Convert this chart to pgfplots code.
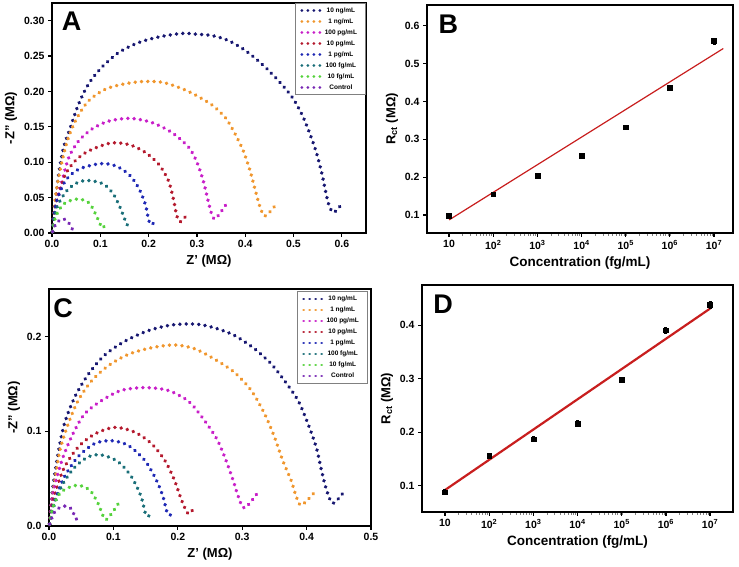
\documentclass[border=0pt]{standalone}
\usepackage{pgfplots}
\pgfplotsset{compat=1.18}
\usepackage{fontspec}
\setmainfont{Liberation Sans}

\definecolor{cNavy}{RGB}{22,22,112}
\definecolor{cOrange}{RGB}{240,150,45}
\definecolor{cMag}{RGB}{200,30,200}
\definecolor{cRed}{RGB}{180,25,45}
\definecolor{cBlue}{RGB}{30,40,180}
\definecolor{cTeal}{RGB}{25,110,120}
\definecolor{cGreen}{RGB}{85,210,60}
\definecolor{cPurp}{RGB}{120,40,180}
\definecolor{fitred}{RGB}{200,30,30}

\tikzset{letter/.style={anchor=north west, inner sep=0pt, font=\fontsize{27}{27}\selectfont\bfseries},
  nyq/.style={line width=3.8pt, line cap=round, dash pattern=on 0.05pt off 6.25pt}}

\pgfplotsset{
  panel/.style={scale only axis, anchor=south west, tick align=outside, tick pos=left,
    axis line style={line width=2pt},
    major tick style={black, line width=1.2pt}, major tick length=4pt,
    tick label style={font=\fontsize{10.5}{12}\selectfont\bfseries},
    label style={font=\fontsize{13}{15}\selectfont\bfseries},
    clip=false},
  nyqlegend/.style={
    legend style={draw=gray, line width=1pt, font=\fontsize{6.5}{7.5}\selectfont\bfseries,
      row sep=0.8pt, inner xsep=5pt, inner ysep=2pt, nodes={inner xsep=3.5pt}},
    legend cell align=center,
    legend image code/.code={\draw[##1, line width=2.9pt, dash pattern=on 0.05pt off 5.95pt] (0pt,0pt) -- (18pt,0pt);}}
}

\begin{document}
\begin{tikzpicture}
\path[use as bounding box] (0,0) rectangle (739pt,567pt);

% ---------------- Panel A ----------------
\begin{axis}[panel, nyqlegend, at={(52pt,334pt)}, width=314pt, height=230pt,
  xmin=0, xmax=0.65, ymin=0, ymax=0.325,
  xtick={0,0.1,0.2,0.3,0.4,0.5,0.6}, ytick={0,0.05,0.1,0.15,0.2,0.25,0.3},
  xticklabel style={/pgf/number format/.cd, fixed, fixed zerofill, precision=1, assume math mode=true},
  yticklabel style={/pgf/number format/.cd, fixed, fixed zerofill, precision=2, assume math mode=true},
  xlabel={Z' (MΩ)}, ylabel={-Z'' (MΩ)},
  legend style={at={(1,1)}, anchor=north east}]
\addplot[nyq, smooth, tension=0.5, cNavy] coordinates {(0.001,0.002) (0.003,0.022) (0.007,0.045) (0.014,0.084) (0.024,0.121) (0.038,0.149) (0.055,0.182) (0.076,0.211) (0.103,0.234) (0.138,0.255) (0.179,0.269) (0.221,0.277) (0.269,0.282) (0.297,0.281) (0.331,0.279) (0.365,0.272) (0.400,0.258) (0.434,0.239) (0.469,0.215) (0.497,0.192) (0.517,0.168) (0.534,0.140) (0.548,0.112) (0.559,0.083) (0.566,0.060) (0.573,0.040) (0.583,0.029) (0.600,0.041)};
\addlegendentry{10 ng/mL}
\addplot[nyq, smooth, tension=0.5, cOrange] coordinates {(0.001,0.002) (0.004,0.030) (0.010,0.064) (0.021,0.102) (0.034,0.135) (0.052,0.163) (0.076,0.187) (0.110,0.203) (0.145,0.210) (0.186,0.214) (0.228,0.213) (0.269,0.204) (0.297,0.195) (0.331,0.181) (0.359,0.163) (0.379,0.140) (0.396,0.116) (0.410,0.088) (0.421,0.060) (0.431,0.036) (0.441,0.024) (0.460,0.037)};
\addlegendentry{1 ng/mL}
\addplot[nyq, smooth, tension=0.5, cMag] coordinates {(0.001,0.002) (0.008,0.040) (0.021,0.074) (0.035,0.107) (0.055,0.130) (0.083,0.147) (0.117,0.158) (0.162,0.162) (0.207,0.156) (0.248,0.142) (0.283,0.121) (0.300,0.100) (0.313,0.074) (0.323,0.046) (0.330,0.028) (0.338,0.020) (0.359,0.039)};
\addlegendentry{100 pg/mL}
\addplot[nyq, smooth, tension=0.5, cRed] coordinates {(0.001,0.002) (0.005,0.030) (0.014,0.055) (0.028,0.083) (0.048,0.102) (0.076,0.116) (0.121,0.127) (0.159,0.125) (0.193,0.114) (0.221,0.097) (0.241,0.074) (0.252,0.046) (0.258,0.025) (0.266,0.016) (0.283,0.029)};
\addlegendentry{10 pg/mL}
\addplot[nyq, smooth, tension=0.5, cBlue] coordinates {(0.001,0.002) (0.004,0.025) (0.010,0.046) (0.028,0.074) (0.055,0.090) (0.100,0.098) (0.131,0.095) (0.159,0.083) (0.179,0.064) (0.193,0.041) (0.199,0.022) (0.204,0.012) (0.214,0.016)};
\addlegendentry{1 pg/mL}
\addplot[nyq, smooth, tension=0.5, cTeal] coordinates {(0.001,0.002) (0.010,0.036) (0.031,0.060) (0.055,0.072) (0.079,0.074) (0.107,0.069) (0.127,0.055) (0.141,0.036) (0.152,0.017) (0.158,0.009)};
\addlegendentry{100 fg/mL}
\addplot[nyq, smooth, tension=0.5, cGreen] coordinates {(0.001,0.002) (0.007,0.022) (0.024,0.041) (0.052,0.048) (0.076,0.043) (0.090,0.027) (0.100,0.012) (0.105,0.007) (0.112,0.014)};
\addlegendentry{10 fg/mL}
\addplot[nyq, smooth, tension=0.5, cPurp] coordinates {(0.001,0.002) (0.010,0.015) (0.024,0.020) (0.034,0.015) (0.040,0.008) (0.045,0.002)};
\addlegendentry{Control}
\node[letter] at (rel axis cs:0.031,0.962) {A};
\end{axis}

% ---------------- Panel B ----------------
\begin{axis}[panel, at={(427pt,334pt)}, width=306pt, height=228pt,
  xmode=log, xmin=3.162, xmax=2.69e7, ymin=0.0525, ymax=0.655,
  xtick={10,100,1000,10000,100000,1000000,10000000},
  xticklabels={10,10\textsuperscript{2},10\textsuperscript{3},10\textsuperscript{4},10\textsuperscript{5},10\textsuperscript{6},10\textsuperscript{7}},
  minor xtick={},
  ytick={0.1,0.2,0.3,0.4,0.5,0.6},
  yticklabel style={/pgf/number format/.cd, fixed, fixed zerofill, precision=1, assume math mode=true},
  xlabel={Concentration (fg/mL)}, ylabel={R\textsubscript{ct} (MΩ)},
  xlabel style={font=\fontsize{13.5}{15}\selectfont\bfseries}]
\addplot[fitred, line width=1.2pt] coordinates {(10,0.087) (1.62e7,0.540)};
\addplot[only marks, mark=square*, mark size=2.4pt, black,
    error bars/.cd, y dir=both, y explicit,
    error bar style={line width=0.8pt, black},
    error mark options={rotate=90, mark size=1.5pt, line width=0.8pt, black}]
  coordinates {(10,0.098) +- (0,0.004) (100,0.155) +- (0,0.004) (1000,0.203) +- (0,0.006) (10000,0.256) +- (0,0.004) (100000,0.332) +- (0,0.005) (1000000,0.437) +- (0,0.005) (10000000,0.560) +- (0,0.008)};
\node[letter] at (rel axis cs:0.037,0.956) {B};
\end{axis}

% ---------------- Panel C ----------------
\begin{axis}[panel, nyqlegend, at={(49pt,41pt)}, width=322pt, height=237pt,
  xmin=0, xmax=0.5, ymin=0, ymax=0.25,
  xtick={0,0.1,0.2,0.3,0.4,0.5}, ytick={0,0.1,0.2},
  xticklabel style={/pgf/number format/.cd, fixed, fixed zerofill, precision=1, assume math mode=true},
  yticklabel style={/pgf/number format/.cd, fixed, fixed zerofill, precision=1, assume math mode=true},
  xlabel={Z' (MΩ)}, ylabel={-Z'' (MΩ)},
  legend style={at={(0.99,0.99)}, anchor=north east}]
\addplot[nyq, smooth, tension=0.5, cNavy] coordinates {(0.001,0.002) (0.003,0.020) (0.006,0.041) (0.014,0.076) (0.024,0.108) (0.040,0.136) (0.061,0.160) (0.086,0.180) (0.118,0.195) (0.154,0.206) (0.190,0.212) (0.228,0.213) (0.257,0.209) (0.288,0.201) (0.319,0.187) (0.345,0.171) (0.366,0.153) (0.387,0.132) (0.402,0.108) (0.415,0.083) (0.423,0.059) (0.431,0.038) (0.441,0.024) (0.459,0.037)};
\addlegendentry{10 ng/mL}
\addplot[nyq, smooth, tension=0.5, cOrange] coordinates {(0.001,0.002) (0.004,0.025) (0.009,0.048) (0.017,0.080) (0.030,0.108) (0.045,0.132) (0.066,0.153) (0.092,0.169) (0.123,0.181) (0.159,0.188) (0.195,0.191) (0.226,0.187) (0.257,0.176) (0.288,0.162) (0.314,0.143) (0.335,0.118) (0.350,0.094) (0.363,0.069) (0.376,0.048) (0.384,0.031) (0.392,0.022) (0.413,0.036)};
\addlegendentry{1 ng/mL}
\addplot[nyq, smooth, tension=0.5, cMag] coordinates {(0.001,0.002) (0.004,0.025) (0.011,0.048) (0.022,0.073) (0.037,0.097) (0.055,0.118) (0.081,0.132) (0.112,0.143) (0.149,0.146) (0.185,0.143) (0.216,0.132) (0.234,0.118) (0.249,0.104) (0.262,0.090) (0.275,0.069) (0.286,0.048) (0.294,0.031) (0.304,0.019) (0.327,0.038)};
\addlegendentry{100 pg/mL}
\addplot[nyq, smooth, tension=0.5, cRed] coordinates {(0.001,0.002) (0.004,0.020) (0.011,0.038) (0.024,0.062) (0.045,0.083) (0.071,0.097) (0.102,0.104) (0.133,0.099) (0.159,0.087) (0.180,0.069) (0.195,0.048) (0.206,0.027) (0.216,0.013) (0.224,0.018)};
\addlegendentry{10 pg/mL}
\addplot[nyq, smooth, tension=0.5, cBlue] coordinates {(0.001,0.002) (0.004,0.017) (0.011,0.031) (0.024,0.052) (0.045,0.073) (0.071,0.087) (0.097,0.090) (0.123,0.085) (0.149,0.069) (0.167,0.048) (0.177,0.031) (0.184,0.013) (0.190,0.012)};
\addlegendentry{1 pg/mL}
\addplot[nyq, smooth, tension=0.5, cTeal] coordinates {(0.001,0.002) (0.009,0.024) (0.022,0.045) (0.040,0.062) (0.061,0.073) (0.081,0.075) (0.107,0.068) (0.128,0.052) (0.143,0.031) (0.151,0.011) (0.160,0.013)};
\addlegendentry{100 fg/mL}
\addplot[nyq, smooth, tension=0.5, cGreen] coordinates {(0.001,0.002) (0.006,0.020) (0.019,0.036) (0.043,0.043) (0.063,0.038) (0.076,0.024) (0.087,0.007) (0.097,0.013) (0.108,0.024)};
\addlegendentry{10 fg/mL}
\addplot[nyq, smooth, tension=0.5, cPurp] coordinates {(0.001,0.002) (0.009,0.015) (0.022,0.021) (0.035,0.018) (0.041,0.008) (0.048,0.006)};
\addlegendentry{Control}
\node[letter] at (rel axis cs:0.013,0.961) {C};
\end{axis}

% ---------------- Panel D ----------------
\begin{axis}[panel, at={(422pt,55pt)}, width=311pt, height=227pt,
  xmode=log, xmin=3.02, xmax=3.3e7, ymin=0.051, ymax=0.475,
  xtick={10,100,1000,10000,100000,1000000,10000000},
  xticklabels={10,10\textsuperscript{2},10\textsuperscript{3},10\textsuperscript{4},10\textsuperscript{5},10\textsuperscript{6},10\textsuperscript{7}},
  minor xtick={},
  ytick={0.1,0.2,0.3,0.4},
  yticklabel style={/pgf/number format/.cd, fixed, fixed zerofill, precision=1, assume math mode=true},
  xlabel={Concentration (fg/mL)}, ylabel={R\textsubscript{ct} (MΩ)},
  xlabel style={font=\fontsize{13.5}{15}\selectfont\bfseries}]
\addplot[fitred, line width=2.2pt] coordinates {(10,0.092) (10000000,0.431)};
\addplot[only marks, mark=square*, mark size=2.4pt, black,
    error bars/.cd, y dir=both, y explicit,
    error bar style={line width=0.8pt, black},
    error mark options={rotate=90, mark size=1.5pt, line width=0.8pt, black}]
  coordinates {(10,0.088) +- (0,0.005) (100,0.156) +- (0,0.004) (1000,0.187) +- (0,0.005) (10000,0.2165) +- (0,0.005) (100000,0.2986) +- (0,0.004) (1000000,0.3906) +- (0,0.006) (10000000,0.438) +- (0,0.006)};
\node[letter] at (rel axis cs:0.036,0.956) {D};
\end{axis}
\end{tikzpicture}
\end{document}
